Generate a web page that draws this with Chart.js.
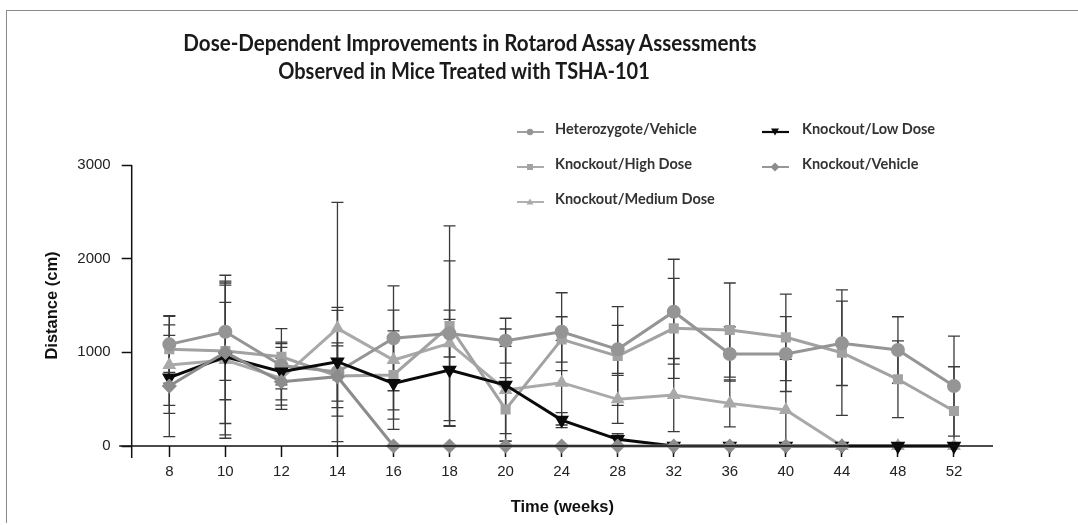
<!DOCTYPE html>
<html>
<head>
<meta charset="utf-8">
<script src="https://cdn.jsdelivr.net/npm/chart.js@4.4.0/dist/chart.umd.min.js"></script>
<style>
  html, body { margin:0; padding:0; background:#fff; }
  #wrap { position:relative; width:1078px; height:525px; overflow:hidden; background:#fff; }
  #c { position:absolute; left:0; top:0; }
  .frameTop { position:absolute; left:7px; top:10px; width:1071px; height:0; border-top:1.5px solid #8a8a8a; }
  .frameLeft { position:absolute; left:6px; top:10px; width:0; height:513px; border-left:1.5px solid #8a8a8a; }
  .ttl { position:absolute; white-space:nowrap; font-family:Lato, "Open Sans", sans-serif; font-weight:700; color:#1a1a1a; line-height:1; font-size:22px; }
  .leg { position:absolute; white-space:nowrap; font-family:Lato, "Open Sans", sans-serif; font-weight:700; color:#333; line-height:1; }
  .legm { position:absolute; }
</style>
</head>
<body>
<div id="wrap">
  <canvas id="c" width="1078" height="525"></canvas>
  <div class="frameTop"></div>
  <div class="frameLeft"></div>
  <div id="t1" class="ttl" style="left:470px; top:32px; transform:translateX(-50%) scaleX(0.935);">Dose-Dependent Improvements in Rotarod Assay Assessments</div>
  <div id="t2" class="ttl" style="left:464px; top:60px; transform:translateX(-50%) scaleX(0.91);">Observed in Mice Treated with TSHA-101</div>
  <div id="legend"></div>
</div>
<script>
// ---- data ----
const weeks = ['8','10','12','14','16','18','20','24','28','32','36','40','44','48','52'];
const yTicks = [0, 1000, 2000, 3000];

const hetVehicle    = [1085,1220,860,790,1150,1200,1124,1220,1032,1434,982,982,1096,1025,640];
const hetVehicleErr = [300,520,250,310,560,250,240,416,256,560,290,400,450,355,534];

const koHigh    = [1032,1014,953,747,758,1281,391,1138,960,1256,1238,1160,996,712,373];
const koHighErr = [360,520,300,700,472,1070,338,242,527,534,502,461,670,410,473];

const koMedium    = [864,918,722,1256,918,1096,598,676,498,544,455,384,0,0,0];
const koMediumErr = [430,800,330,1344,533,880,466,452,256,390,250,541,0,0,0];

const koLow    = [729,953,793,900,669,811,651,277,71,0,0,0,0,0,0];
const koLowErr = [380,870,300,580,491,540,598,80,60,0,0,0,0,0,0];

const koVehicle    = [640,1000,686,740,0,0,0,0,0,0,0,0,0,null,null];
const koVehicleErr = [540,760,250,330,0,0,0,0,0,0,0,0,0,0,0];

const seriesNames = ['Heterozygote/Vehicle','Knockout/High Dose','Knockout/Medium Dose','Knockout/Low Dose','Knockout/Vehicle'];

// ---- build ----
const toPts = arr => arr.map((v,i) => ({x:i, y:v}));
const styles = [
  {color:'#959595', point:'circle',   radius:5.5, rot:0,   order:2},
  {color:'#a2a2a2', point:'rect',     radius:5,   rot:0,   order:3},
  {color:'#a9a9a9', point:'triangle', radius:5,   rot:0,   order:4},
  {color:'#0a0a0a', point:'triangle', radius:5.5, rot:180, order:1},
  {color:'#8c8c8c', point:'rectRot',  radius:5.5, rot:0,   order:0}
];
const values = [hetVehicle, koHigh, koMedium, koLow, koVehicle];
const errors = [hetVehicleErr, koHighErr, koMediumErr, koLowErr, koVehicleErr];

const datasets = values.map((vals, k) => ({
  label: seriesNames[k],
  data: toPts(vals),
  borderColor: styles[k].color,
  backgroundColor: styles[k].color,
  pointBackgroundColor: styles[k].color,
  pointBorderColor: styles[k].color,
  pointStyle: styles[k].point,
  pointRotation: styles[k].rot,
  pointRadius: styles[k].radius,
  borderWidth: 3,
  tension: 0,
  spanGaps: false,
  order: styles[k].order,
  clip: false,
  errs: errors[k]
}));

const errorBars = {
  id: 'errorBars',
  beforeDatasetsDraw(chart) {
    const ctx = chart.ctx, xs = chart.scales.x, ys = chart.scales.y;
    ctx.save();
    ctx.strokeStyle = '#3a3a3a';
    ctx.lineWidth = 1.3;
    chart.data.datasets.forEach(ds => {
      ds.data.forEach((p, j) => {
        const e = ds.errs[j];
        if (p.y === null || !e) return;
        const x = xs.getPixelForValue(p.x);
        const hiV = p.y + e, loV = Math.max(0, p.y - e);
        const yh = ys.getPixelForValue(hiV), yl = ys.getPixelForValue(loV);
        ctx.beginPath();
        ctx.moveTo(x, yh); ctx.lineTo(x, yl);
        ctx.moveTo(x - 6, yh); ctx.lineTo(x + 6, yh);
        if (p.y - e > 0) { ctx.moveTo(x - 6, yl); ctx.lineTo(x + 6, yl); }
        ctx.stroke();
      });
    });
    ctx.restore();
  }
};

const axisLines = {
  id: 'axisLines',
  afterDraw(chart) {
    const ctx = chart.ctx, a = chart.chartArea;
    ctx.save();
    ctx.strokeStyle = '#111';
    ctx.lineWidth = 1.5;
    ctx.beginPath();
    ctx.moveTo(a.left - 12.5, a.bottom); ctx.lineTo(a.right, a.bottom);
    ctx.moveTo(a.left, a.top); ctx.lineTo(a.left, a.bottom + 12);
    ctx.stroke();
    ctx.restore();
  }
};

new Chart(document.getElementById('c'), {
  type: 'line',
  data: { datasets },
  options: {
    responsive: false,
    animation: false,
    devicePixelRatio: 1,
    layout: { padding: { left: 0, top: 165, right: 85, bottom: 0 } },
    plugins: { legend: { display: false }, title: { display: false }, tooltip: { enabled: false } },
    scales: {
      x: {
        type: 'linear',
        min: -0.671, max: 14.696,
        afterBuildTicks: s => { s.ticks = weeks.map((w, i) => ({ value: i })); },
        afterFit: s => { s.height = 79; },
        ticks: {
          autoSkip: false, maxRotation: 0, padding: 6,
          color: '#222',
          font: { family: '"Liberation Sans", Arial, sans-serif', size: 15 },
          callback: v => weeks[v]
        },
        grid: { display: true, drawOnChartArea: false, drawTicks: true, tickLength: 11, tickColor: '#111', tickWidth: 1.5 },
        border: { display: false },
        title: {
          display: true, text: 'Time (weeks)', color: '#111',
          font: { family: '"Liberation Sans", Arial, sans-serif', size: 16.5, weight: 'bold' },
          padding: { top: 0, bottom: 8 }
        }
      },
      y: {
        type: 'linear',
        min: 0, max: 3000,
        afterBuildTicks: s => { s.ticks = yTicks.map(v => ({ value: v })); },
        afterFit: s => { s.width = 131.7; },
        ticks: {
          padding: 11, color: '#222',
          font: { family: '"Liberation Sans", Arial, sans-serif', size: 15 },
          callback: v => String(v)
        },
        grid: { display: true, drawOnChartArea: false, drawTicks: true, tickLength: 10, tickColor: '#111', tickWidth: 1.5 },
        border: { display: false },
        title: {
          display: true, text: 'Distance (cm)', color: '#111',
          font: { family: '"Liberation Sans", Arial, sans-serif', size: 16.5, weight: 'bold' },
          padding: { top: 43, bottom: 0 }
        }
      }
    }
  },
  plugins: [errorBars, axisLines]
});

// ---- legend (HTML) ----
const legPos = [
  {mx:517, tx:555, y:130},
  {mx:517, tx:555, y:165},
  {mx:517, tx:555, y:200},
  {mx:762, tx:802, y:130},
  {mx:762, tx:802, y:165}
];
function markerSvg(k) {
  const c = styles[k].color;
  let m = '';
  if (k === 0) m = `<circle cx="13" cy="6" r="3.2" fill="${c}"/>`;
  if (k === 1) m = `<rect x="10" y="3" width="6" height="6" fill="${c}"/>`;
  if (k === 2) m = `<polygon points="13,2.5 16.5,8.5 9.5,8.5" fill="${c}"/>`;
  if (k === 3) m = `<polygon points="9,2.5 17,2.5 13,9.5" fill="${c}"/>`;
  if (k === 4) m = `<polygon points="13,1.5 17.5,6 13,10.5 8.5,6" fill="${c}"/>`;
  const lw = k === 3 ? 2.2 : 1.8;
  return `<svg width="27" height="12" viewBox="0 0 27 12"><line x1="0" y1="6" x2="27" y2="6" stroke="${c}" stroke-width="${lw}"/>${m}</svg>`;
}
const legEl = document.getElementById('legend');
seriesNames.forEach((name, k) => {
  const p = legPos[k];
  const m = document.createElement('div');
  m.className = 'legm';
  m.style.left = p.mx + 'px'; m.style.top = (p.y - 6) + 'px';
  m.innerHTML = markerSvg(k);
  legEl.appendChild(m);
  const t = document.createElement('div');
  t.className = 'leg';
  t.style.left = p.tx + 'px'; t.style.top = (p.y - 8) + 'px';
  t.style.fontSize = '14.5px';
  t.textContent = name;
  legEl.appendChild(t);
});
</script>
</body>
</html>
